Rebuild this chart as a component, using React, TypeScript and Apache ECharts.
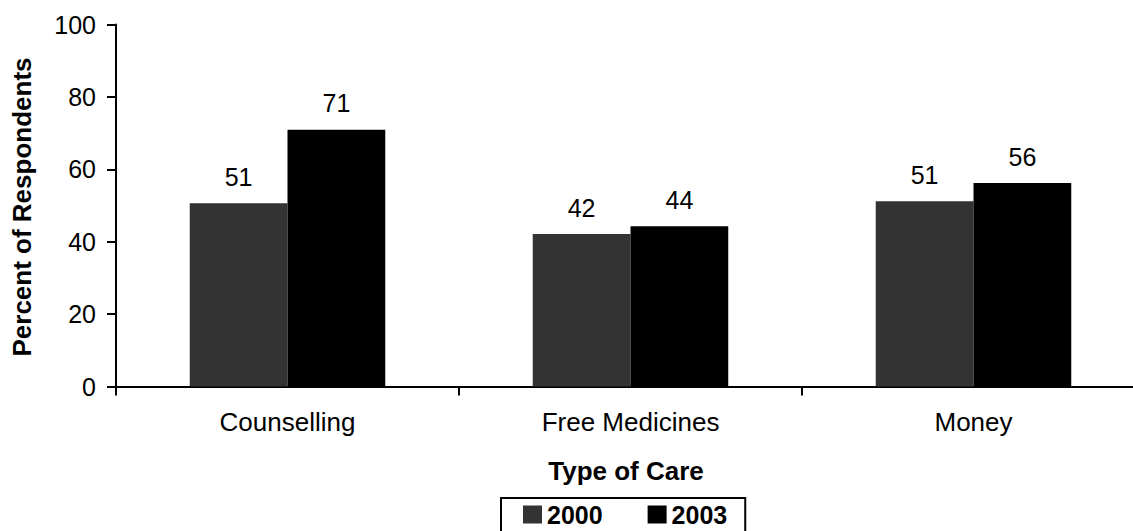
import React, { useEffect, useRef } from "react";
import * as echarts from "echarts";

const categories = ["Counselling", "Free Medicines", "Money"];
const seriesNames = ["2000", "2003"];
const values2000 = [50.6, 42.1, 51.2];
const values2003 = [70.9, 44.3, 56.2];
const yTicks = { min: 0, max: 100, interval: 20 };

const FONT = "'Liberation Sans', Arial, Helvetica, sans-serif";

export default function App() {
  const ref = useRef<HTMLDivElement>(null);
  useEffect(() => {
    if (!ref.current) return;
    const chart = echarts.init(ref.current, null, { renderer: "svg" });
    const label = {
      show: true,
      position: "top",
      distance: 14,
      color: "#000",
      fontSize: 25,
      fontFamily: FONT,
      formatter: (p: any) => String(Math.round(p.value)),
    };
    chart.setOption({
      animation: false,
      backgroundColor: "#fff",
      textStyle: { fontFamily: FONT },
      grid: { left: 116, top: 24.5, width: 1029, height: 362, containLabel: false },
      legend: {
        show: true,
        left: 501,
        top: 498,
        orient: "horizontal",
        icon: "rect",
        itemWidth: 19,
        itemHeight: 18,
        itemGap: 45,
        borderColor: "#000",
        borderWidth: 2,
        borderRadius: 0,
        padding: [4, 18, 16, 22],
        textStyle: { fontSize: 25, fontWeight: "bold", color: "#000", fontFamily: FONT },
        data: seriesNames,
      },
      xAxis: {
        type: "category",
        data: categories,
        axisLine: { show: true, lineStyle: { color: "#000", width: 2 } },
        axisTick: { show: true, length: 9, alignWithLabel: false, lineStyle: { color: "#000", width: 2 } },
        axisLabel: { color: "#000", fontSize: 26, margin: 22, fontFamily: FONT },
        splitLine: { show: false },
      },
      yAxis: {
        type: "value",
        min: yTicks.min,
        max: yTicks.max,
        interval: yTicks.interval,
        axisLine: { show: true, lineStyle: { color: "#000", width: 2 } },
        axisTick: { show: true, length: 9, lineStyle: { color: "#000", width: 2 } },
        axisLabel: { color: "#000", fontSize: 25, margin: 20, fontFamily: FONT },
        splitLine: { show: false },
      },
      graphic: [
        {
          type: "text",
          x: 22,
          y: 207,
          rotation: Math.PI / 2,
          style: {
            text: "Percent of Respondents",
            font: `bold 26px ${FONT}`,
            fill: "#000",
            align: "center",
            verticalAlign: "middle",
          },
        },
        {
          type: "text",
          x: 626,
          y: 471,
          style: {
            text: "Type of Care",
            font: `bold 26px ${FONT}`,
            fill: "#000",
            align: "center",
            verticalAlign: "middle",
          },
        },
      ],
      series: [
        {
          name: seriesNames[0],
          type: "bar",
          data: values2000,
          itemStyle: { color: "#333333" },
          barGap: "0%",
          barCategoryGap: "43%",
          label,
        },
        {
          name: seriesNames[1],
          type: "bar",
          data: values2003,
          itemStyle: { color: "#000000" },
          barGap: "0%",
          barCategoryGap: "43%",
          label,
        },
      ],
    });
    return () => chart.dispose();
  }, []);
  return (
    <div
      style={{
        position: "absolute",
        left: 0,
        top: 0,
        width: 1133,
        height: 531,
        overflow: "hidden",
        background: "#fff",
      }}
    >
      <div ref={ref} style={{ width: 1160, height: 545 }} />
    </div>
  );
}
